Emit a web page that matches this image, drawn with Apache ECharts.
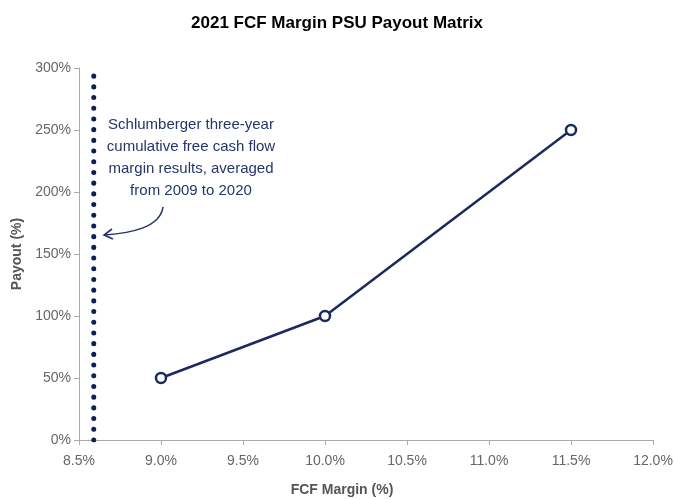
<!DOCTYPE html>
<html>
<head>
<meta charset="utf-8">
<script src="https://cdn.jsdelivr.net/npm/echarts@6/dist/echarts.min.js"></script>
<style>
  html, body { margin: 0; padding: 0; background: #fff; }
  #chart { width: 674px; height: 499px; }
</style>
</head>
<body>
<div id="chart"></div>
<script>
// FCF margin (%) vs payout (%)
var margins = [9.0, 10.0, 11.5];
var payouts = [50, 100, 250];
// historical average margin marker
var avgMargin = 8.59;
var avgRange = [0, 300];
var noteLines = ['Schlumberger three-year', 'cumulative free cash flow', 'margin results, averaged', 'from 2009 to 2020'];

var navy = '#1b2a5e';
var chart = echarts.init(document.getElementById('chart'));

chart.setOption({
  animation: false,
  title: {
    text: '2021 FCF Margin PSU Payout Matrix',
    left: 'center',
    top: 10,
    textStyle: { fontFamily: 'Liberation Sans', fontSize: 17, fontWeight: 'bold', color: '#000' }
  },
  grid: { left: 79, right: 21, top: 68, bottom: 59, outerBoundsMode: 'none' },
  xAxis: {
    type: 'value',
    min: 8.5, max: 12.0, interval: 0.5,
    name: 'FCF Margin (%)',
    nameLocation: 'middle',
    nameGap: 43,
    nameTextStyle: { fontFamily: 'Liberation Sans', fontSize: 14, fontWeight: 'bold', color: '#555', padding: [0, 48, 0, 0] },
    axisLine: { lineStyle: { color: '#aaa', width: 1 } },
    axisTick: { show: true, length: 5, lineStyle: { color: '#aaa' } },
    axisLabel: { fontFamily: 'Liberation Sans', fontSize: 14, color: '#666', margin: 14,
      formatter: function (v) { return v.toFixed(1) + '%'; } },
    splitLine: { show: false }
  },
  yAxis: {
    type: 'value',
    min: 0, max: 300, interval: 50,
    name: 'Payout (%)',
    nameLocation: 'middle',
    nameGap: 53,
    nameTextStyle: { fontFamily: 'Liberation Sans', fontSize: 14, fontWeight: 'bold', color: '#555', padding: [0, 0, 0, 0] },
    axisLine: { show: true, lineStyle: { color: '#aaa', width: 1 } },
    axisTick: { show: true, length: 5, lineStyle: { color: '#aaa' } },
    axisLabel: { fontFamily: 'Liberation Sans', fontSize: 14, color: '#666', margin: 8,
      formatter: function (v) { return v + '%'; } },
    splitLine: { show: false }
  },
  series: [
    {
      type: 'line',
      data: [[avgMargin, avgRange[0]], [avgMargin, avgRange[1]]],
      symbol: 'none',
      lineStyle: { color: '#0d1f55', width: 5, type: [0.1, 10.6], cap: 'round' },
      z: 3
    },
    {
      type: 'line',
      data: margins.map(function (m, i) { return [m, payouts[i]]; }),
      symbol: 'circle',
      symbolSize: 10,
      itemStyle: { color: '#fff', borderColor: navy, borderWidth: 2.5 },
      lineStyle: { color: navy, width: 2.5 },
      z: 4
    }
  ],
  graphic: [
    {
      type: 'text',
      x: 191, y: 114,
      style: {
        text: noteLines.join('\n'),
        fontFamily: 'Liberation Sans',
        fontSize: 15,
        lineHeight: 22,
        textAlign: 'center',
        fill: '#25356a'
      },
      z: 10
    },
    {
      type: 'bezierCurve',
      shape: { x1: 163, y1: 207, cpx1: 160, cpy1: 228, cpx2: 130, cpy2: 233, x2: 105, y2: 235 },
      style: { stroke: '#25356a', lineWidth: 1.6, fill: null },
      z: 10
    },
    {
      type: 'polyline',
      shape: { points: [[112, 229], [104, 235], [113, 239]] },
      style: { stroke: '#25356a', lineWidth: 1.6, fill: null },
      z: 10
    }
  ]
});
</script>
</body>
</html>
